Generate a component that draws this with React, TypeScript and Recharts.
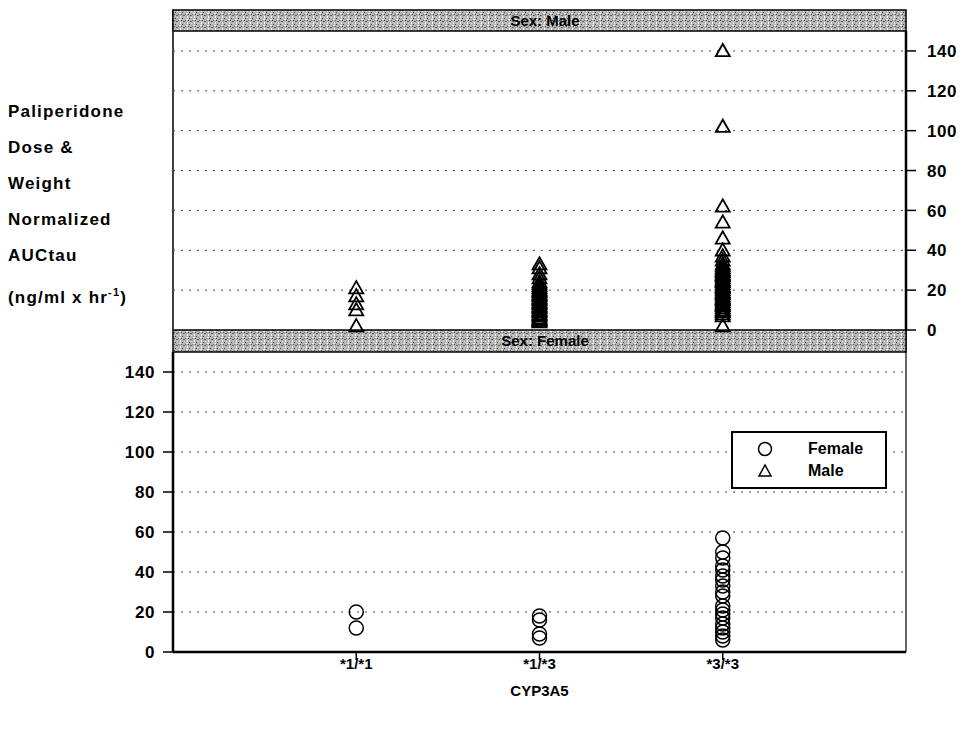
import { ScatterChart, Scatter, XAxis, YAxis, CartesianGrid, Legend } from "recharts";

// genotype groups on the x axis
const genotypes = ["*1/*1", "*1/*3", "*3/*3"];

// male AUCtau values per genotype
const male11 = [21, 17, 13, 10, 2];
const male13 = [33, 31, 28, 26, 24, 23, 22, 21, 20, 19.5, 19, 18, 17.5, 17, 16, 15.5, 15, 14, 13.5, 13, 12, 11.5, 11, 10, 9.5, 9, 8, 7.5, 7, 6, 5.5, 5, 4.5, 4];
const male33 = [140, 102, 62, 54, 46, 40, 37, 35, 33, 32, 31, 30, 29.5, 29, 28, 27.5, 27, 26, 25, 24.5, 24, 23, 22, 21.5, 21, 20, 19, 18.5, 18, 17, 16, 15.5, 15, 14, 13, 12.5, 12, 11, 10, 9.5, 9, 8, 7, 2];

// female AUCtau values per genotype
const female11 = [20, 12];
const female13 = [18, 16, 9, 7];
const female33 = [57, 50, 47, 43, 41, 38, 36, 33, 30, 28, 23, 21, 19, 17, 14, 12, 10, 8, 6];

const yTicks = [0, 10, 20, 30, 40, 50, 60, 70, 80, 90, 100, 110, 120, 130, 140];

const toPoints = (groups: number[][]) =>
  groups.flatMap((vals, i) => vals.map((y) => ({ x: i + 1, y })));

const maleData = toPoints([male11, male13, male33]);
const femaleData = toPoints([female11, female13, female33]);

const FONT = "'Liberation Sans', Arial, sans-serif";
const W = 966;
const H = 729;

const Triangle = (props: any) => {
  const { cx, cy } = props;
  const s = 7;
  return (
    <polygon
      points={`${cx},${cy - s} ${cx - s},${cy + s * 0.75} ${cx + s},${cy + s * 0.75}`}
      fill="none"
      stroke="#000"
      strokeWidth={1.8}
    />
  );
};

const Circle = (props: any) => {
  const { cx, cy } = props;
  return <circle cx={cx} cy={cy} r={7} fill="none" stroke="#000" strokeWidth={1.5} />;
};

const RightTick = (props: any) => {
  const { x, y, payload } = props;
  const major = payload.value % 20 === 0;
  return (
    <g>
      <line x1={x} x2={x + (major ? 10 : 4)} y1={y} y2={y} stroke="#000" strokeWidth={1.5} />
      {major && (
        <text x={x + 21} y={y} dy="0.36em" textAnchor="start" fontFamily={FONT} fontWeight="bold" fontSize={17} letterSpacing={0.6} fill="#000">
          {payload.value}
        </text>
      )}
    </g>
  );
};

const LeftTick = (props: any) => {
  const { x, y, payload } = props;
  const major = payload.value % 20 === 0;
  return (
    <g>
      <line x1={x} x2={x - (major ? 10 : 4)} y1={y} y2={y} stroke="#000" strokeWidth={1.5} />
      {major && (
        <text x={x - 18} y={y} dy="0.36em" textAnchor="end" fontFamily={FONT} fontWeight="bold" fontSize={17} letterSpacing={0.6} fill="#000">
          {payload.value}
        </text>
      )}
    </g>
  );
};

const BottomTick = (props: any) => {
  const { x, y, payload } = props;
  return (
    <g>
      <line x1={x} x2={x} y1={y} y2={y + 8} stroke="#000" strokeWidth={1.5} />
      <text x={x} y={y + 6} dy="0.71em" textAnchor="middle" fontFamily={FONT} fontWeight="bold" fontSize={15} fill="#000">
        {genotypes[payload.value - 1]}
      </text>
    </g>
  );
};

const LegendBox = () => (
  <div
    style={{
      width: 156,
      height: 58,
      border: "2px solid #000",
      background: "#fff",
      fontFamily: FONT,
      fontWeight: "bold",
      fontSize: 16,
      boxSizing: "border-box",
    }}
  >
    {[
      { name: "Female", shape: <circle cx={9} cy={9} r={6.5} fill="none" stroke="#000" strokeWidth={1.5} /> },
      { name: "Male", shape: <polygon points="9,3 3,14 15,14" fill="none" stroke="#000" strokeWidth={1.5} /> },
    ].map((it, i) => (
      <div key={it.name} style={{ display: "flex", alignItems: "center", height: 22, marginTop: i === 0 ? 5 : 0 }}>
        <svg width={18} height={18} style={{ marginLeft: 23 }}>
          {it.shape}
        </svg>
        <span style={{ marginLeft: 34 }}>{it.name}</span>
      </div>
    ))}
  </div>
);

const Strip = ({ y, h, label }: { y: number; h: number; label: string }) => (
  <g>
    <rect x={173} y={y} width={733} height={h} fill="url(#speckle)" stroke="#000" strokeWidth={1.5} />
    <text x={545} y={y + h / 2} dy="0.36em" textAnchor="middle" fontFamily={FONT} fontWeight="bold" fontSize={15} fill="#000">
      {label}
    </text>
  </g>
);

const yLabelLines = ["Paliperidone", "Dose &", "Weight", "Normalized", "AUCtau"];

export default function App() {
  return (
    <div style={{ position: "absolute", left: 0, top: 0, width: W, height: H, background: "#fff" }}>
      {/* panel strips and frames */}
      <svg width={W} height={H} style={{ position: "absolute", left: 0, top: 0 }}>
        <defs>
          <pattern id="speckle" width={7} height={6} patternUnits="userSpaceOnUse">
            <rect width={7} height={6} fill="#b4b4b4" />
            <rect x={0} y={0} width={1} height={1} fill="#444" />
            <rect x={4} y={1} width={2} height={1} fill="#f2f2f2" />
            <rect x={1} y={3} width={2} height={1} fill="#666" />
            <rect x={5} y={4} width={1} height={2} fill="#fff" />
            <rect x={3} y={2} width={1} height={1} fill="#777" />
            <rect x={2} y={5} width={1} height={1} fill="#e0e0e0" />
            <rect x={6} y={2} width={1} height={1} fill="#555" />
          </pattern>
        </defs>
        <line x1={173} x2={173} y1={10} y2={330} stroke="#000" strokeWidth={1.5} />
        <line x1={906} x2={906} y1={330} y2={652} stroke="#000" strokeWidth={1.2} />
        <Strip y={10} h={21} label="Sex: Male" />
        <Strip y={330} h={22} label="Sex: Female" />
      </svg>

      {/* Male panel */}
      <div style={{ position: "absolute", left: 0, top: 0 }}>
        <ScatterChart width={W} height={H} margin={{ top: 31, right: 10, left: 173, bottom: 399 }}>
          <CartesianGrid vertical={false} stroke="#444" strokeDasharray="2 6" />
          <XAxis type="number" dataKey="x" domain={[0, 4]} hide />
          <YAxis
            type="number"
            dataKey="y"
            orientation="right"
            domain={[0, 150]}
            ticks={yTicks}
            width={50}
            tickSize={0}
            tickMargin={0}
            tick={<RightTick />}
            axisLine={{ stroke: "#000", strokeWidth: 2.5 }}
            tickLine={false}
          />
          <Scatter name="Male" data={maleData} shape={<Triangle />} isAnimationActive={false} />
        </ScatterChart>
      </div>

      {/* Female panel */}
      <div style={{ position: "absolute", left: 0, top: 0 }}>
        <ScatterChart width={W} height={H} margin={{ top: 352, right: 60, left: 123, bottom: 27 }}>
          <CartesianGrid vertical={false} stroke="#444" strokeDasharray="2 6" />
          <XAxis
            type="number"
            dataKey="x"
            domain={[0, 4]}
            ticks={[1, 2, 3]}
            height={50}
            tickSize={0}
            tickMargin={0}
            tick={<BottomTick />}
            axisLine={{ stroke: "#000", strokeWidth: 2.5 }}
            tickLine={false}
            label={{ value: "CYP3A5", position: "insideBottom", offset: 6, fontFamily: FONT, fontWeight: "bold", fontSize: 15, fill: "#000" }}
          />
          <YAxis
            type="number"
            dataKey="y"
            domain={[0, 150]}
            ticks={yTicks}
            width={50}
            tickSize={0}
            tickMargin={0}
            tick={<LeftTick />}
            axisLine={{ stroke: "#000", strokeWidth: 2.5 }}
            tickLine={false}
          />
          <Legend
            layout="vertical"
            align="center"
            verticalAlign="middle"
            content={<LegendBox />}
            wrapperStyle={{ left: 731, top: 431, width: 156 }}
          />
          <Scatter name="Female" data={femaleData} shape={<Circle />} isAnimationActive={false} />
        </ScatterChart>
      </div>

      {/* y axis title */}
      <div
        style={{
          position: "absolute",
          left: 8,
          top: 94,
          fontFamily: FONT,
          fontWeight: "bold",
          fontSize: 17,
          letterSpacing: 1.2,
          lineHeight: "36px",
          color: "#000",
        }}
      >
        {yLabelLines.map((l) => (
          <div key={l}>{l}</div>
        ))}
        <div>
          (ng/ml x hr<sup style={{ fontSize: 11 }}>-1</sup>)
        </div>
      </div>
    </div>
  );
}
